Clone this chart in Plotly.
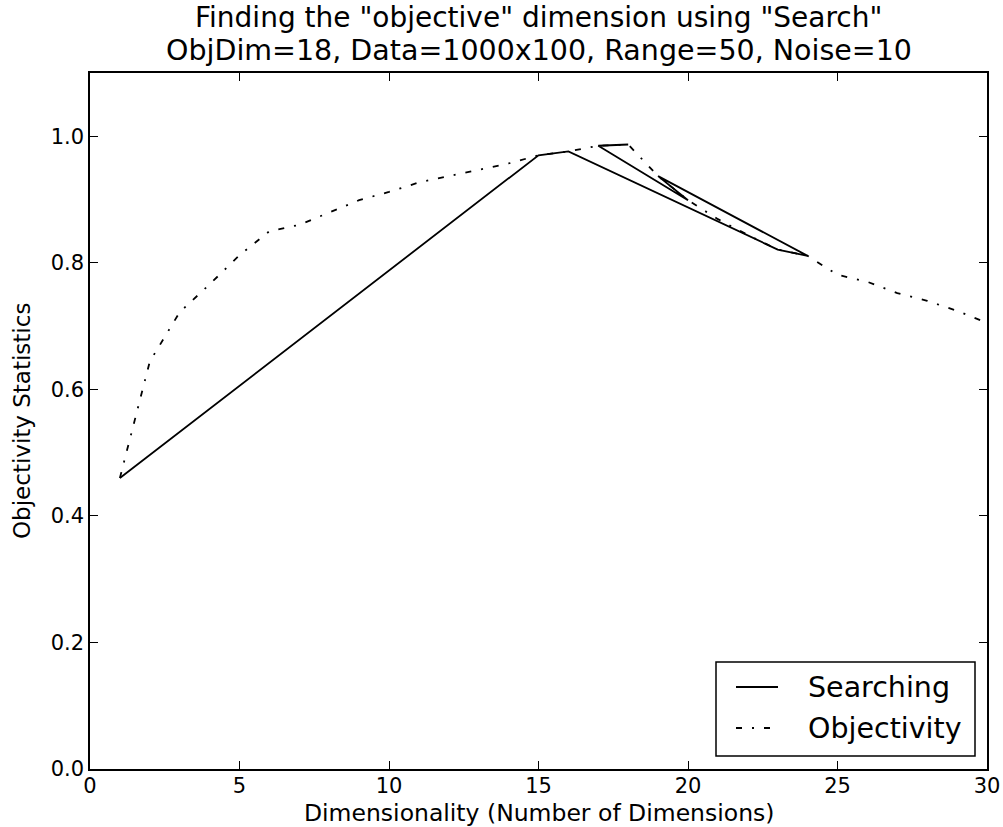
import plotly.graph_objects as go

# Objectivity statistic for every candidate dimensionality
dims = list(range(1, 31))
objectivity = [0.460, 0.644, 0.722, 0.766, 0.812, 0.850, 0.860, 0.879, 0.899, 0.912,
               0.927, 0.937, 0.947, 0.957, 0.970, 0.976, 0.985, 0.987, 0.937, 0.899,
               0.869, 0.844, 0.821, 0.811, 0.781, 0.770, 0.752, 0.740, 0.724, 0.705]

# Dimensions visited by the search, in evaluation order
search_dims = [1, 15, 16, 23, 24, 19, 20, 17, 18]
search_vals = [objectivity[d - 1] for d in search_dims]

x_ticks = [0, 5, 10, 15, 20, 25, 30]
y_ticks = [0.0, 0.2, 0.4, 0.6, 0.8, 1.0]

title_1 = 'Finding the "objective" dimension using "Search"'
title_2 = 'ObjDim=18, Data=1000x100, Range=50, Noise=10'
x_label = "Dimensionality (Number of Dimensions)"
y_label = "Objectivity Statistics"
legend_names = ["Searching", "Objectivity"]

FONT = "DejaVu Sans"
W, H = 1003, 827
ML, MR, MT, MB = 90, 16, 73, 58
PW, PH = W - ML - MR, H - MT - MB
SOLID = dict(color="black", width=1.8)
DASHDOT = dict(color="black", width=1.8, dash="6px,10px,2px,10px")


def px_x(px):
    """Pixel column -> paper x fraction."""
    return (px - ML) / PW


def px_y(py):
    """Pixel row -> paper y fraction."""
    return (H - MB - py) / PH


fig = go.Figure()
fig.add_trace(go.Scatter(x=search_dims, y=search_vals, mode="lines",
                         name=legend_names[0], line=SOLID))
fig.add_trace(go.Scatter(x=dims, y=objectivity, mode="lines",
                         name=legend_names[1], line=DASHDOT))

axis_common = dict(
    showline=True, linecolor="black", linewidth=1.5, mirror="allticks",
    ticks="inside", ticklen=8, tickwidth=1, tickcolor="black",
    showgrid=False, zeroline=False, automargin=False,
    tickfont=dict(family=FONT, size=21, color="black"),
)

fig.update_layout(
    width=W, height=H, autosize=False,
    margin=dict(l=ML, r=MR, t=MT, b=MB, autoexpand=False),
    paper_bgcolor="white", plot_bgcolor="white",
    font=dict(family=FONT, color="black"),
    xaxis=dict(range=[0, 30], tickvals=x_ticks, ticklabelstandoff=-3,
               ticktext=[str(v) for v in x_ticks], **axis_common),
    yaxis=dict(range=[0, 1.1], tickvals=y_ticks,
               ticktext=[f"{v:.1f}" for v in y_ticks], **axis_common),
    showlegend=False,
)

# Two-line title and axis labels
fig.add_annotation(text=title_1, xref="paper", yref="paper", x=0.5, y=1,
                   yanchor="middle", yshift=56, showarrow=False,
                   font=dict(family=FONT, size=28, color="black"))
fig.add_annotation(text=title_2, xref="paper", yref="paper", x=0.5, y=1,
                   yanchor="middle", yshift=23, showarrow=False,
                   font=dict(family=FONT, size=28.5, color="black"))
fig.add_annotation(text=x_label, xref="paper", yref="paper", x=0.5, y=0,
                   yanchor="middle", yshift=-44, showarrow=False,
                   font=dict(family=FONT, size=23.5, color="black"))
fig.add_annotation(text=y_label, xref="paper", yref="paper", x=0, y=0.5,
                   xanchor="center", xshift=-68, textangle=-90, showarrow=False,
                   font=dict(family=FONT, size=23, color="black"))

# Legend box in the lower-right corner of the axes
box_l, box_r, box_t, box_b = 716, 975, 662, 756
fig.add_shape(type="rect", xref="paper", yref="paper",
              x0=px_x(box_l), x1=px_x(box_r), y0=px_y(box_b), y1=px_y(box_t),
              line=dict(color="black", width=1.5), fillcolor="white", layer="above")
for name, style, row_y in zip(legend_names, [SOLID, DASHDOT], [687, 728]):
    fig.add_shape(type="line", xref="paper", yref="paper",
                  x0=px_x(736), x1=px_x(778), y0=px_y(row_y), y1=px_y(row_y),
                  line=style, layer="above")
    fig.add_annotation(text=name, xref="paper", yref="paper",
                       x=px_x(806), y=px_y(row_y), xanchor="left", yanchor="middle",
                       showarrow=False,
                       font=dict(family=FONT, size=28.5, color="black"))

fig.write_html("out.html")
